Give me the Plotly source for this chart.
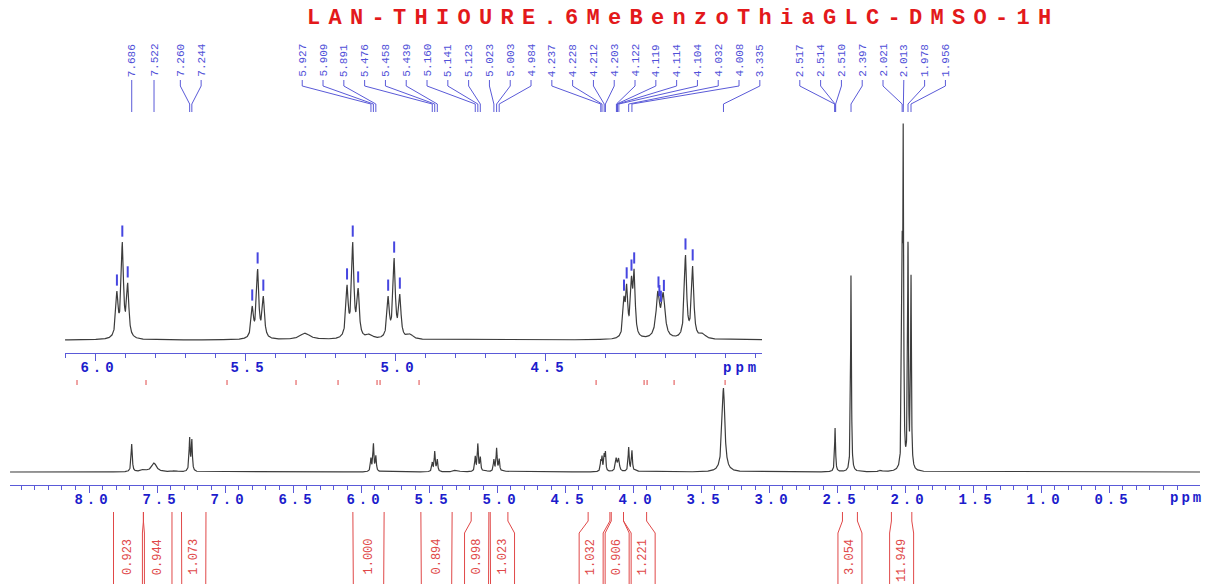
import numpy as np
import plotly.graph_objects as go

W, H = 1206, 584

title_text = "LAN-THIOURE.6MeBenzoThiaGLC-DMSO-1H"

# peak positions printed above the spectrum (ppm)
label_ppm = [7.686, 7.522, 7.260, 7.244,
             5.927, 5.909, 5.891, 5.476, 5.458, 5.439, 5.160, 5.141, 5.123,
             5.023, 5.003, 4.984, 4.237, 4.228, 4.212, 4.203, 4.122, 4.119,
             4.114, 4.104, 4.032, 4.008, 3.335,
             2.517, 2.514, 2.510, 2.397, 2.021, 2.013, 1.978, 1.956]

# lines of the spectrum: centre (ppm), apparent height on the full trace, half width (ppm)
line_ppm = [7.686, 7.600, 7.522, 7.370, 7.260, 7.244,
            5.927, 5.909, 5.891, 5.476, 5.458, 5.439, 5.300,
            5.160, 5.141, 5.123, 5.085, 5.023, 5.003, 4.984, 4.950,
            4.237, 4.228, 4.212, 4.203, 4.124, 4.106, 4.032, 4.008, 3.975,
            3.335, 2.514, 2.397, 2.180, 2.021, 2.013, 1.978, 1.956]
line_height = [28, 3, 9, 1.5, 35, 33,
               14.4, 28.8, 16.8, 10.0, 20.9, 12.9, 2.0,
               16.2, 28.8, 15.3, 1.8, 12.9, 24.1, 13.5, 1.8,
               12.9, 16.5, 18.8, 20.9, 14.4, 14.0, 25.0, 21.8, 2.0,
               84, 44, 199, 2, 239, 350, 231, 198]
line_hw = [0.005, 0.02, 0.022, 0.02, 0.0045, 0.0045,
           0.0045, 0.0045, 0.0045, 0.0045, 0.0045, 0.0045, 0.02,
           0.0045, 0.0045, 0.0045, 0.012, 0.0045, 0.0045, 0.0045, 0.012,
           0.004, 0.004, 0.004, 0.004, 0.007, 0.007, 0.0045, 0.0045, 0.012,
           0.012, 0.004, 0.0035, 0.01, 0.0035, 0.0035, 0.0035, 0.0035]

# integrals
integral_value = ["0.923", "0.944", "1.073", "1.000", "0.894", "0.998", "1.023",
                  "1.032", "0.906", "1.221", "3.054", "11.949"]
integral_from = [7.82, 7.60, 7.32, 6.06, 5.56, 5.19, 5.05, 4.33, 4.16, 4.07, 2.46, 2.10]
integral_to = [7.60, 7.39, 7.14, 5.83, 5.33, 5.06, 4.92, 4.17, 4.07, 3.90, 2.35, 1.95]

main_tick_vals = [8.5, 8.0, 7.5, 7.0, 6.5, 6.0, 5.5, 5.0, 4.5, 4.0, 3.5, 3.0, 2.5, 2.0, 1.5, 1.0, 0.5, 0.0]
main_tick_text = ["", "8.0", "7.5", "7.0", "6.5", "6.0", "5.5", "5.0", "4.5", "4.0", "3.5",
                  "3.0", "2.5", "2.0", "1.5", "1.0", "0.5", ""]
inset_tick_vals = [6.0, 5.5, 5.0, 4.5, 4.0]
inset_tick_text = ["6.0", "5.5", "5.0", "4.5", ""]

# ---------------- layout geometry (pixels) ----------------
MAIN_X0, MAIN_X1 = 10, 1200
MAIN_R0, MAIN_R1 = 8.581, -0.169
MAIN_AXIS_Y, MAIN_BASE_Y, MAIN_TOP_Y = 485, 472, 100
INS_X0, INS_X1 = 65, 762
INS_R0, INS_R1 = 6.10, 3.777
INS_AXIS_Y, INS_BASE_Y, INS_TOP_Y = 353, 340, 200
INSET_GAIN = 3.4

BLUE_TXT = "#1c1ccc"
BLUE_LINE = "#5a5ad8"
RED = "#e04848"
MONO = "Liberation Mono"
LS = 4.0  # letter spacing of the axis labels


def spaced(t, ls=LS):
    return f'<span style="letter-spacing:{ls}px">{t}</span>' if t else ""


k_main = (MAIN_X1 - MAIN_X0) / (MAIN_R0 - MAIN_R1)  # px per ppm


def fy(py):
    return 1 - py / H


# ---------------- spectrum from the peak list ----------------
P = np.array(line_ppm)
Hh = np.array(line_height, dtype=float)
G = np.array(line_hw)


def spectrum(x, amp):
    x = np.asarray(x, dtype=float)
    return (amp[None, :] / (1 + ((x[:, None] - P[None, :]) / G[None, :]) ** 2)).sum(1)


amp = Hh.copy()
for _ in range(400):
    amp *= Hh / spectrum(P, amp)

x_main = np.arange(MAIN_R1, MAIN_R0, 0.0008)
y_main = spectrum(x_main, amp)
x_ins = np.arange(INS_R1, INS_R0, 0.0004)
y_ins = spectrum(x_ins, amp) * INSET_GAIN

fig = go.Figure()
fig.add_trace(go.Scatter(x=np.round(x_main, 4), y=np.round(y_main, 2), mode="lines",
                         line=dict(color="#3c3c3c", width=1.2), xaxis="x", yaxis="y",
                         hoverinfo="skip", showlegend=False))
fig.add_trace(go.Scatter(x=np.round(x_ins, 4), y=np.round(y_ins, 2), mode="lines",
                         line=dict(color="#3c3c3c", width=1.2), xaxis="x2", yaxis="y2",
                         hoverinfo="skip", showlegend=False))

# peak markers in the inset
lp = np.array(label_ppm)
in_ins = lp[(lp < INS_R0) & (lp > INS_R1)]
fig.add_trace(go.Scatter(x=in_ins, y=spectrum(in_ins, amp) * INSET_GAIN + 11, mode="markers",
                         marker=dict(symbol="line-ns", size=8, line=dict(color="#4646e0", width=2)),
                         xaxis="x2", yaxis="y2", hoverinfo="skip", showlegend=False))


# ---------------- label placement (pool adjacent violators) ----------------
def spread(pos_px, gaps):
    c = np.concatenate([[0], np.cumsum(gaps)])
    q = np.array(pos_px) - c
    blocks = []
    for v in q:
        blocks.append([v, 1])
        while len(blocks) > 1 and blocks[-2][0] / blocks[-2][1] > blocks[-1][0] / blocks[-1][1]:
            s, n = blocks.pop()
            blocks[-1][0] += s
            blocks[-1][1] += n
    out = []
    for s, n in blocks:
        out += [s / n] * n
    return np.array(out) + c


def ppm2px(p):
    return MAIN_X0 + (MAIN_R0 - np.asarray(p)) * k_main


def px2ppm(x):
    return MAIN_R0 - (np.asarray(x) - MAIN_X0) / k_main


# top labels
peak_px = ppm2px(lp)
lab_px = spread(peak_px, [20.8] * (len(lp) - 1))
lab_ppm = px2ppm(lab_px)
lx, ly = [], []
for L, Pp in zip(lab_ppm, lp):
    lx += [L, L, Pp, Pp, None]
    ly += [80, 86, 104, 112, None]
fig.add_trace(go.Scatter(x=lx, y=ly, mode="lines", line=dict(color=BLUE_LINE, width=1),
                         xaxis="x", yaxis="y3", hoverinfo="skip", showlegend=False))

annotations = []
for L, t in zip(lab_ppm, label_ppm):
    annotations.append(dict(x=L, y=79, xref="x", yref="y3", text=f"{t:.3f}", showarrow=False,
                            textangle=-90, xanchor="center", yanchor="bottom",
                            font=dict(family=MONO, size=11, color="#5050d8")))

# integrals
f_px = ppm2px(integral_from)
t_px = ppm2px(integral_to)
mid = (f_px + t_px) / 2
hw = np.maximum((t_px - f_px) / 2 - 0.5, 12)
gaps = hw[:-1] + hw[1:] + 2
ilab_px = spread(mid, gaps)
ix, iy = [], []
for a, b, c, w in zip(f_px, t_px, ilab_px, hw):
    ix += list(px2ppm([a, a, c - w, c - w])) + [None]
    iy += [512, 521, 533, 590, None]
    ix += list(px2ppm([b, b, c + w, c + w])) + [None]
    iy += [512, 521, 533, 590, None]
fig.add_trace(go.Scatter(x=ix, y=iy, mode="lines", line=dict(color=RED, width=1),
                         xaxis="x", yaxis="y3", hoverinfo="skip", showlegend=False))
for c, v in zip(px2ppm(ilab_px), integral_value):
    annotations.append(dict(x=c, y=537, xref="x", yref="y3", text=v, showarrow=False,
                            textangle=-90, xanchor="center", yanchor="top",
                            font=dict(family=MONO, size=12, color=RED)))

# integral edge marks below the inset axis
edges = sorted(set(integral_from + integral_to))
edges = [e for e in edges if INS_R1 < e < INS_R0]
ex, ey = [], []
for e in edges:
    ex += [e, e, None]
    ey += [380, 385, None]
fig.add_trace(go.Scatter(x=ex, y=ey, mode="lines", line=dict(color=RED, width=1),
                         xaxis="x2", yaxis="y4", hoverinfo="skip", showlegend=False))

# title and ppm labels
annotations.append(dict(x=305 / W, y=fy(18), xref="paper", yref="paper",
                        text=f'<span style="letter-spacing:8.3px">{title_text}</span>',
                        showarrow=False, xanchor="left", yanchor="middle",
                        font=dict(family=MONO, size=22, color="#e3191b", weight="bold")))
annotations.append(dict(x=1168 / W, y=fy(498), xref="paper", yref="paper", text=spaced("ppm", 3),
                        showarrow=False, xanchor="left", yanchor="middle",
                        font=dict(family=MONO, size=14, color=BLUE_TXT, weight="bold")))
annotations.append(dict(x=741 / W, y=fy(368), xref="paper", yref="paper", text=spaced("ppm"),
                        showarrow=False, xanchor="center", yanchor="middle",
                        font=dict(family=MONO, size=14, color=BLUE_TXT, weight="bold")))

axis_common = dict(showgrid=False, zeroline=False, showline=True, linecolor=BLUE_LINE, linewidth=1,
                   ticks="outside", ticklen=7, tickcolor=BLUE_LINE, tickwidth=1,
                   tickfont=dict(family=MONO, size=14, color=BLUE_TXT, weight="bold"),
                   ticklabelstandoff=-6, ticklabelshift=-4,
                   tickmode="array", fixedrange=True)

fig.update_layout(
    width=W, height=H, autosize=False,
    margin=dict(l=0, r=0, t=0, b=0, pad=0),
    paper_bgcolor="white", plot_bgcolor="rgba(0,0,0,0)",
    showlegend=False,
    xaxis=dict(domain=[MAIN_X0 / W, MAIN_X1 / W], range=[MAIN_R0, MAIN_R1], anchor="y",
               tickvals=main_tick_vals, ticktext=[spaced(t) for t in main_tick_text],
               minor=dict(tickvals=list(np.round(np.arange(0.0, 8.6, 0.1), 1)), ticklen=4,
                          tickcolor=BLUE_LINE, ticks="outside"),
               **axis_common),
    yaxis=dict(domain=[fy(MAIN_AXIS_Y), fy(MAIN_TOP_Y)],
               range=[-(MAIN_AXIS_Y - MAIN_BASE_Y), MAIN_AXIS_Y - MAIN_TOP_Y - (MAIN_AXIS_Y - MAIN_BASE_Y)],
               visible=False, fixedrange=True),
    xaxis2=dict(domain=[INS_X0 / W, INS_X1 / W], range=[INS_R0, INS_R1], anchor="y2",
                tickvals=inset_tick_vals, ticktext=[spaced(t) for t in inset_tick_text],
                minor=dict(tickvals=list(np.round(np.arange(3.8, 6.11, 0.1), 1)), ticklen=4,
                           tickcolor=BLUE_LINE, ticks="outside"),
                **axis_common),
    yaxis2=dict(domain=[fy(INS_AXIS_Y), fy(INS_TOP_Y)],
                range=[-(INS_AXIS_Y - INS_BASE_Y), INS_AXIS_Y - INS_TOP_Y - (INS_AXIS_Y - INS_BASE_Y)],
                visible=False, fixedrange=True),
    yaxis3=dict(domain=[0, 1], range=[H, 0], visible=False, fixedrange=True, anchor="x"),
    yaxis4=dict(domain=[0, 1], range=[H, 0], visible=False, fixedrange=True, anchor="x2"),
    annotations=annotations,
)

fig.write_html("out.html", post_script="document.body.style.margin='0px';",
               config={"displayModeBar": False})
